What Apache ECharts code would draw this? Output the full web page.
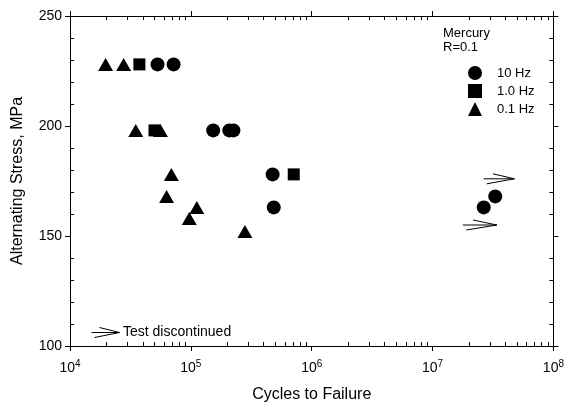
<!DOCTYPE html>
<html lang="en">
<head>
    <meta charset="utf-8">
    <title>Mercury R=0.1 - S-N</title>
    <script src="https://cdn.jsdelivr.net/npm/echarts@6/dist/echarts.min.js"></script>
    <style>
        html, body { margin: 0; padding: 0; background: #fff; }
        #chart { width: 567px; height: 408px; }
    </style>
</head>
<body>
    <div id="chart"></div>
    <script>
        // -- data: [cycles, stress MPa]
        var hz10 = [
            [5.3e4, 228], [7.2e4, 228],
            [1.53e5, 198], [2.08e5, 198], [2.25e5, 198],
            [4.75e5, 178], [4.85e5, 163],
            [2.65e7, 163], [3.3e7, 168]
        ];
        var hz1 = [[3.75e4, 228], [5.0e4, 198], [7.1e5, 178]];
        var hz01 = [
            [1.97e4, 228], [2.78e4, 228],
            [3.5e4, 198], [5.6e4, 198],
            [6.9e4, 178], [6.3e4, 168],
            [1.12e5, 163], [9.7e4, 158],
            [2.8e5, 152]
        ];
        // runouts (test discontinued): [start cycles, end cycles, stress]
        var runouts = [[2.65e7, 4.75e7, 176], [1.78e7, 3.4e7, 155]];
        var seriesNames = ['10 Hz', '1.0 Hz', '0.1 Hz'];
        var yTicks = [100, 150, 200, 250];

        var font = 'Liberation Sans, Arial, sans-serif';
        var chart = echarts.init(document.getElementById('chart'));

        function xAx(pos, labels) {
            return {
                type: 'log', logBase: 10, min: 1e4, max: 1e8, position: pos,
                axisLine: { lineStyle: { color: '#000', width: 1 } },
                axisTick: { show: true, inside: true, length: -5, lineStyle: { color: '#000' } },
                minorTick: { show: true, splitNumber: 9, length: 4, lineStyle: { color: '#000' } },
                splitLine: { show: false },
                axisLabel: labels ? {
                    show: true, margin: 13, color: '#000', fontFamily: font, fontSize: 14,
                    formatter: function (v) { return '10{s|' + Math.round(Math.log10(v)) + '}'; },
                    rich: { s: { fontSize: 10, verticalAlign: 'top', fontFamily: font, color: '#000', padding: [0, 0, 8, 0] } }
                } : { show: false },
                name: labels ? 'Cycles to Failure' : '',
                nameLocation: 'middle', nameGap: 41,
                nameTextStyle: { color: '#000', fontFamily: font, fontSize: 16 }
            };
        }
        function yAx(pos, labels) {
            return {
                type: 'value', min: yTicks[0], max: yTicks[yTicks.length - 1], interval: 50, position: pos,
                axisLine: { show: true, lineStyle: { color: '#000', width: 1 } },
                axisTick: { show: true, inside: true, length: -5, lineStyle: { color: '#000' } },
                minorTick: { show: true, splitNumber: 5, length: 4, lineStyle: { color: '#000' } },
                splitLine: { show: false },
                axisLabel: { show: labels, margin: 8, color: '#000', fontFamily: font, fontSize: 14 },
                name: labels ? 'Alternating Stress, MPa' : '',
                nameLocation: 'middle', nameGap: 44,
                nameTextStyle: { color: '#000', fontFamily: font, fontSize: 16 }
            };
        }

        function drawArrow(params, api) {
            var p0 = api.coord([api.value(0), api.value(2)]);
            var p1 = api.coord([api.value(1), api.value(2)]);
            var L = p1[0] - p0[0];
            var st = { stroke: '#000', lineWidth: 1, fill: null };
            return {
                type: 'group',
                children: [
                    { type: 'line', shape: { x1: p0[0], y1: p0[1], x2: p1[0], y2: p1[1] }, style: st },
                    { type: 'line', shape: { x1: p0[0] + L * 0.3, y1: p0[1] - 5, x2: p1[0], y2: p1[1] }, style: st },
                    { type: 'line', shape: { x1: p0[0] + L * 0.1, y1: p0[1] + 5, x2: p1[0], y2: p1[1] }, style: st }
                ]
            };
        }

        var option = {
            backgroundColor: '#fff',
            animation: false,
            textStyle: { fontFamily: font },
            grid: { left: 70, right: 13, top: 16, bottom: 56, containLabel: false },
            xAxis: [xAx('bottom', true), xAx('top', false)],
            yAxis: [yAx('left', true), yAx('right', false)],
            legend: {
                orient: 'vertical', left: 463, top: 61,
                itemWidth: 14, itemHeight: 14, itemGap: 4,
                data: seriesNames,
                textStyle: { color: '#000', fontFamily: font, fontSize: 13, padding: [0, 0, 0, 10] }
            },
            graphic: [
                { type: 'text', left: 443, top: 26, style: { text: 'Mercury\nR=0.1', fill: '#000', font: '13px ' + font, lineHeight: 14 } },
                {
                    type: 'group', left: 89, top: 325,
                    children: [
                        { type: 'line', shape: { x1: 0, y1: 6, x2: 28, y2: 6 }, style: { stroke: '#000', lineWidth: 1 } },
                        { type: 'line', shape: { x1: 8, y1: 1, x2: 28, y2: 6 }, style: { stroke: '#000', lineWidth: 1 } },
                        { type: 'line', shape: { x1: 3, y1: 11, x2: 28, y2: 6 }, style: { stroke: '#000', lineWidth: 1 } }
                    ]
                },
                { type: 'text', left: 123, top: 325, style: { text: 'Test discontinued', fill: '#000', font: '14px ' + font } }
            ],
            series: [
                { name: seriesNames[0], type: 'scatter', symbol: 'circle', symbolSize: 14, itemStyle: { color: '#000', opacity: 1 }, data: hz10 },
                { name: seriesNames[1], type: 'scatter', symbol: 'rect', symbolSize: 12, itemStyle: { color: '#000', opacity: 1 }, data: hz1 },
                { name: seriesNames[2], type: 'scatter', symbol: 'triangle', symbolSize: [15, 13], itemStyle: { color: '#000', opacity: 1 }, data: hz01 },
                { type: 'custom', renderItem: drawArrow, data: runouts, silent: true }
            ]
        };
        chart.setOption(option, true);
    </script>
</body>
</html>
